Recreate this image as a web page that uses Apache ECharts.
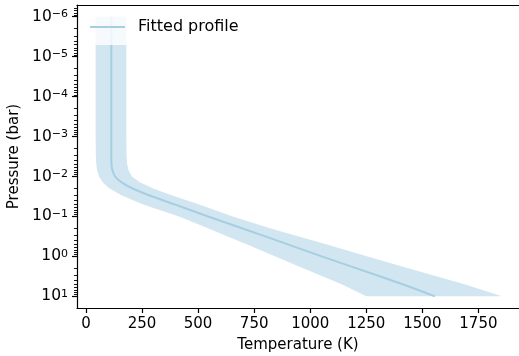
<!DOCTYPE html>
<html>
<head>
<meta charset="utf-8">
<script src="https://cdn.jsdelivr.net/npm/echarts@6/dist/echarts.min.js"></script>
<style>
  html, body { margin: 0; padding: 0; background: #fff; }
  #chart { width: 519px; height: 356px; }
</style>
</head>
<body>
<div id="chart"></div>
<script>
// pressure levels (bar) and the fitted temperature profile (K)
const pressure = [1e-6, 1e-5, 1e-4, 1e-3, 3e-3, 5e-3, 7e-3, 0.01, 0.014, 0.02, 0.03, 0.05, 0.1, 0.2, 0.5, 1, 2, 5, 10]
const tempMedian = [113, 113, 113, 113, 113, 114, 118, 130, 159, 208, 284, 396, 545, 699, 900, 1051, 1207, 1412, 1556]
const tempLow = [43, 43, 43, 43, 44, 46, 50, 58, 75, 105, 160, 255, 415, 546, 716, 845, 971, 1140, 1250]
const tempHigh = [180, 180, 180, 180, 181, 184, 190, 205, 240, 300, 385, 505, 655, 824, 1071, 1256, 1441, 1688, 1855]

const yTicks = [1e-6, 1e-5, 1e-4, 1e-3, 1e-2, 1e-1, 1, 10]
const xTicks = [0, 250, 500, 750, 1000, 1250, 1500, 1750]

// minor ticks 2..9 in every decade
const yMinor = []
for (let d = -7; d <= 1; d++) {
  for (let k = 2; k <= 9; k++) {
    const v = k * Math.pow(10, d)
    if (v > 5.1e-7 && v < 19.6) yMinor.push(v)
  }
}

const font = 'DejaVu Sans'
const chart = echarts.init(document.getElementById('chart'))

const expLabel = (v) => {
  const e = Math.round(Math.log10(v))
  return '{b|10}{e|' + String(e).replace('-', '\u2212') + '}'
}

const option = {
  animation: false,
  grid: { left: 77, top: 5, right: 0, bottom: 48, containLabel: false, outerBoundsMode: 'none' },
  legend: {
    data: ['Fitted profile'],
    left: 84, top: 9,
    icon: 'rect',
    padding: [9, 8, 9, 6],
    backgroundColor: 'rgba(255,255,255,0.8)',
    itemWidth: 35, itemHeight: 2,
    textStyle: { fontFamily: font, fontSize: 16, lineHeight: 18, color: '#000', padding: [0, 0, 0, 8] },
  },
  xAxis: [
    {
      type: 'value',
      position: 'bottom',
      min: -40, max: 1931,
      name: 'Temperature (K)',
      nameLocation: 'middle',
      nameGap: 30,
      nameTextStyle: { fontFamily: font, fontSize: 15, color: '#000' },
      splitLine: { show: false },
      axisLine: { onZero: false, lineStyle: { color: '#000', width: 1.2 } },
      axisTick: { customValues: xTicks, length: 5, lineStyle: { color: '#000', width: 1.2 } },
      axisLabel: { customValues: xTicks, margin: 9, fontFamily: font, fontSize: 15, color: '#000', formatter: (v) => String(v) },
    },
    {
      type: 'value',
      position: 'top',
      min: -40, max: 1931,
      splitLine: { show: false },
      axisLine: { show: true, onZero: false, lineStyle: { color: '#000', width: 1.2 } },
      axisTick: { show: false },
      axisLabel: { show: false },
    },
  ],
  yAxis: [
    {
      type: 'log',
      position: 'left',
      offset: 0,
      inverse: true,
      min: 5.09e-7, max: 19.6,
      name: 'Pressure (bar)',
      nameLocation: 'middle',
      nameGap: 50,
      nameTextStyle: { fontFamily: font, fontSize: 15, color: '#000' },
      splitLine: { show: false },
      axisLine: { show: true, onZero: false, lineStyle: { color: '#000', width: 1.2 } },
      axisTick: { show: true, customValues: yTicks, length: 5, lineStyle: { color: '#000', width: 1.2 } },
      axisLabel: {
        customValues: yTicks,
        margin: 9,
        formatter: expLabel,
        rich: {
          b: { fontFamily: font, fontSize: 15.5, lineHeight: 16, color: '#000', verticalAlign: 'bottom', padding: [3, 0, 0, 0] },
          e: { fontFamily: font, fontSize: 11, lineHeight: 11, color: '#000', verticalAlign: 'top' },
        },
      },
    },
    {
      type: 'log',
      position: 'left',
      offset: 0,
      inverse: true,
      min: 5.09e-7, max: 19.6,
      splitLine: { show: false },
      axisLine: { show: false, onZero: false },
      axisTick: { show: true, customValues: yMinor, length: 3, lineStyle: { color: '#000', width: 0.9 } },
      axisLabel: { show: false },
    },
  ],
  series: [
    {
      name: 'band',
      type: 'custom',
      data: [0],
      z: 1,
      silent: true,
      renderItem: function (params, api) {
        const pts = []
        for (let i = 0; i < pressure.length; i++) pts.push(api.coord([tempLow[i], pressure[i]]))
        for (let i = pressure.length - 1; i >= 0; i--) pts.push(api.coord([tempHigh[i], pressure[i]]))
        return {
          type: 'polygon',
          shape: { points: pts },
          style: { fill: '#d2e6f1' },
        }
      },
    },
    {
      name: 'Fitted profile',
      type: 'line',
      z: 2,
      symbol: 'none',
      smooth: 0.3,
      color: '#a6cee3',
      lineStyle: { width: 2, color: '#a6cee3' },
      data: pressure.map((p, i) => [tempMedian[i], p]),
    },
  ],
}

chart.setOption(option)
</script>
</body>
</html>
